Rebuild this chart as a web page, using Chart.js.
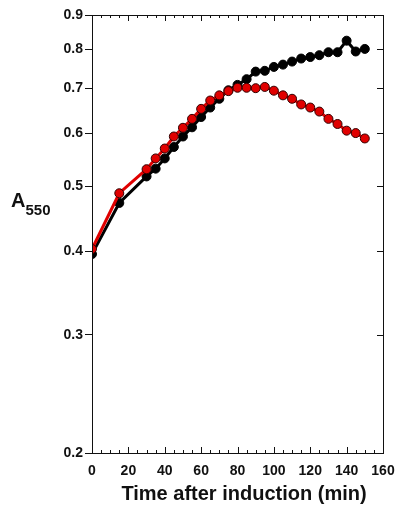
<!DOCTYPE html>
<html><head><meta charset="utf-8">
<script src="https://cdn.jsdelivr.net/npm/chart.js@4/dist/chart.umd.min.js"></script>
<style>html,body{margin:0;padding:0;background:#fff}#wrap{width:396px;height:510px}</style>
</head><body><div id="wrap"><canvas id="c" width="396" height="510"></canvas></div>
<script>
const timesA = [0,15,30,35,40,45,50,55,60,65,70,75,80,85,90,95,100,105,110,115,120,125,130,135,140,145,150];
const blackValues = [0.396,0.472,0.517,0.531,0.550,0.572,0.593,0.612,0.634,0.655,0.675,0.695,0.708,0.722,0.741,0.743,0.753,0.759,0.767,0.775,0.779,0.784,0.792,0.792,0.824,0.794,0.801];
const redValues   = [0.403,0.488,0.530,0.550,0.569,0.593,0.611,0.630,0.652,0.671,0.683,0.693,0.701,0.701,0.700,0.703,0.694,0.683,0.675,0.662,0.655,0.646,0.630,0.619,0.605,0.600,0.589];
const yTickValues = [0.2,0.3,0.4,0.5,0.6,0.7,0.8,0.9];
const xTickStep = 20, xMinorStep = 5, xMin = 0, xMax = 160;
const xTitle = "Time after induction (min)";
const yTitleMain = "A", yTitleSub = "550";

const FONT = "'Liberation Sans', Arial, sans-serif";
const pts = (vals) => timesA.map((t,i)=>({x:t,y:vals[i]}));

const framePlugin = {
  id:'frame',
  afterDraw(chart){
    const {ctx, chartArea:a, scales:{x,y}} = chart;
    ctx.save();
    ctx.strokeStyle='#111'; ctx.lineWidth=1;
    ctx.strokeRect(a.left+0.5, a.top+0.5, a.right-a.left, a.bottom-a.top);
    ctx.beginPath();
    for(let v=xMin; v<=xMax; v+=xMinorStep){
      const px = Math.round(x.getPixelForValue(v))+0.5;
      const len = (v % xTickStep === 0) ? 6 : 3;
      ctx.moveTo(px, a.bottom); ctx.lineTo(px, a.bottom-len);
      ctx.moveTo(px, a.top); ctx.lineTo(px, a.top+len);
    }
    yTickValues.forEach(v=>{
      const py = Math.round(y.getPixelForValue(v))+0.5;
      ctx.moveTo(a.right, py); ctx.lineTo(a.right-6, py);
    });
    ctx.stroke();
    // titles
    ctx.fillStyle='#111';
    ctx.textAlign='center'; ctx.textBaseline='alphabetic';
    ctx.font = "bold 20px " + FONT;
    ctx.fillText(xTitle, 244, 500);
    ctx.textAlign='left';
    ctx.font = "bold 20px " + FONT;
    ctx.fillText(yTitleMain, 11, 207);
    const w = ctx.measureText(yTitleMain).width;
    ctx.font = "bold 15px " + FONT;
    ctx.fillText(yTitleSub, 11+w, 215);
    ctx.restore();
  }
};

new Chart(document.getElementById('c'), {
  type:'line',
  data:{datasets:[
    {label:'red', data:pts(redValues), borderColor:'#e00000', backgroundColor:'#e00000',
     pointBackgroundColor:'#e00000', pointBorderColor:'#300000', pointBorderWidth:1,
     pointRadius:4.5, borderWidth:3, tension:0, order:0},
    {label:'black', data:pts(blackValues), borderColor:'#000', backgroundColor:'#000',
     pointBackgroundColor:'#000', pointBorderColor:'#000', pointBorderWidth:1,
     pointRadius:4.5, borderWidth:3, tension:0, order:1}
  ]},
  options:{
    responsive:false, animation:false, devicePixelRatio:1,
    layout:{padding:{top:15,right:13,left:0,bottom:0}},
    plugins:{legend:{display:false}, tooltip:{enabled:false}},
    scales:{
      x:{type:'linear', min:xMin, max:xMax,
         afterFit(s){ s.height = 57; s.paddingLeft = 0; s.paddingRight = 0; },
         border:{display:true,color:'#111',width:1},
         grid:{display:true, drawOnChartArea:false, drawTicks:false},
         ticks:{stepSize:xTickStep, padding:10, color:'#111', font:{family:FONT, size:14, weight:'bold'}, maxRotation:0}
      },
      y:{type:'logarithmic', min:0.2, max:0.9,
         afterFit(s){ s.width = 92; s.paddingTop = 0; s.paddingBottom = 0; },
         afterBuildTicks(s){ s.ticks = yTickValues.map(v=>({value:v})); },
         border:{display:true,color:'#111',width:1},
         grid:{display:true, drawOnChartArea:false, drawTicks:true, tickLength:7, color:'#111'},
         ticks:{padding:2, color:'#111', font:{family:FONT, size:14, weight:'bold'},
                callback:(v)=>Number(v).toFixed(1)}
      }
    }
  },
  plugins:[framePlugin]
});
</script></body></html>
